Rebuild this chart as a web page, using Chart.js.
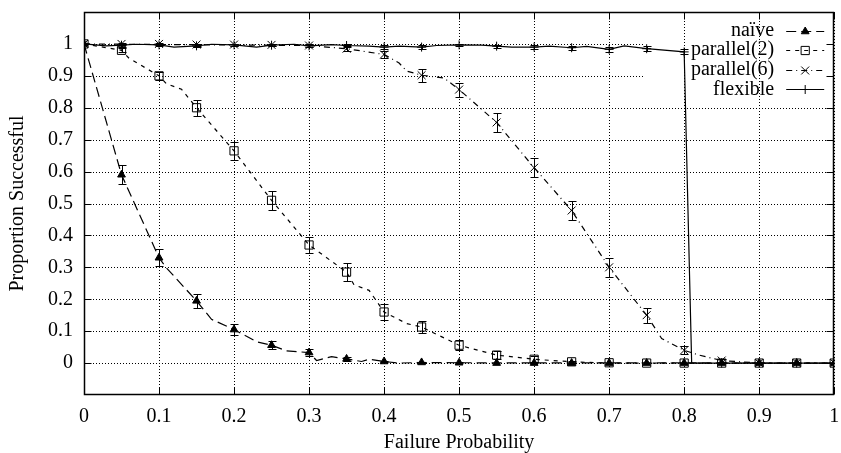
<!DOCTYPE html>
<html>
<head>
  <meta charset="UTF-8">
  <title>Proportion Successful vs Failure Probability</title>
  <script src="https://cdn.jsdelivr.net/npm/chart.js"></script>
  <style>
    html, body {
      margin: 0;
      padding: 0;
      background: #fff;
      overflow: hidden;
    }
    .chart-container {
      position: relative;
      width: 841px;
      height: 453px;
    }
  </style>
</head>
<body>
  <div class="chart-container">
    <canvas id="successChart"></canvas>
  </div>

  <script>
    // measured points (markers + error bars), every 0.05
    const failureProb = [0, 0.05, 0.1, 0.15, 0.2, 0.25, 0.3, 0.35, 0.4, 0.45, 0.5,
                         0.55, 0.6, 0.65, 0.7, 0.75, 0.8, 0.85, 0.9, 0.95, 1];

    const naive        = [1, 0.59, 0.33, 0.195, 0.105, 0.056, 0.033, 0.013, 0.005, 0.002, 0.001,
                          0, 0, 0, 0, 0, 0, 0, 0, 0, 0];
    const naiveErr     = [0, 0.03, 0.026, 0.023, 0.018, 0.013, 0.01, 0.005, 0.003, 0.002, 0.001,
                          0, 0, 0, 0, 0, 0, 0, 0, 0, 0];

    const parallel2    = [1, 0.98, 0.9, 0.8, 0.665, 0.51, 0.37, 0.285, 0.16, 0.113, 0.056,
                          0.025, 0.012, 0.004, 0.001, 0, 0, 0, 0, 0, 0];
    const parallel2Err = [0, 0.006, 0.012, 0.025, 0.028, 0.03, 0.025, 0.028, 0.026, 0.018, 0.015,
                          0.012, 0.01, 0.004, 0, 0, 0, 0, 0, 0, 0];

    const parallel6    = [1, 1, 1, 0.998, 0.998, 0.997, 0.995, 0.985, 0.967, 0.902, 0.857,
                          0.754, 0.612, 0.478, 0.3, 0.15, 0.04, 0.008, 0, 0, 0];
    const parallel6Err = [0, 0.002, 0.002, 0.003, 0.003, 0.003, 0.005, 0.007, 0.01, 0.02, 0.022,
                          0.029, 0.029, 0.031, 0.029, 0.024, 0.012, 0.005, 0, 0, 0];

    const flexible     = [1, 0.996, 0.997, 0.994, 0.997, 0.996, 0.994, 0.995, 0.99, 0.99, 0.997,
                          0.993, 0.99, 0.988, 0.983, 0.985, 0.975, 0, 0, 0, 0];
    const flexibleErr  = [0, 0.005, 0.004, 0.005, 0.004, 0.004, 0.005, 0.005, 0.006, 0.006, 0.004,
                          0.005, 0.006, 0.006, 0.008, 0.008, 0.008, 0, 0, 0, 0];

    // the connecting lines were sampled finer than the markers
    const naiveLineX = [0, 0.05, 0.1, 0.11, 0.15, 0.17, 0.2, 0.23, 0.25, 0.27, 0.3, 0.31, 0.33,
                        0.35, 0.37, 0.38, 0.4, 0.42, 0.45, 0.5, 1];
    const naiveLineY = [1, 0.59, 0.33, 0.298, 0.195, 0.137, 0.105, 0.067, 0.056, 0.038, 0.033, 0.008, 0.02,
                        0.013, 0.005, 0.012, 0.005, 0, 0.002, 0.001, 0];

    const parallel2LineX = [0, 0.05, 0.06, 0.1, 0.11, 0.13, 0.15, 0.2, 0.25, 0.3, 0.35, 0.36, 0.38,
                            0.4, 0.43, 0.45, 0.5, 0.55, 0.6, 0.65, 0.7, 1];
    const parallel2LineY = [1, 0.98, 0.955, 0.9, 0.875, 0.858, 0.8, 0.665, 0.51, 0.37, 0.285, 0.245, 0.228,
                            0.16, 0.124, 0.113, 0.056, 0.025, 0.012, 0.004, 0, 0];

    const parallel6LineX = [0, 0.3, 0.35, 0.4, 0.42, 0.43, 0.45, 0.48, 0.5, 0.55, 0.6, 0.65, 0.7,
                            0.75, 0.77, 0.8, 0.82, 0.85, 0.9, 1];
    const parallel6LineY = [1, 0.995, 0.985, 0.967, 0.94, 0.915, 0.902, 0.893, 0.857, 0.754, 0.612, 0.478, 0.3,
                            0.15, 0.077, 0.04, 0.025, 0.008, 0, 0];

    const flexibleLineX = [0, 0.03, 0.05, 0.07, 0.1, 0.12, 0.15, 0.17, 0.2, 0.23, 0.25, 0.28, 0.3, 0.33,
                           0.35, 0.38, 0.4, 0.42, 0.45, 0.47, 0.5, 0.53, 0.55, 0.57, 0.6, 0.62, 0.65,
                           0.67, 0.7, 0.72, 0.75, 0.8, 0.81, 1];
    const flexibleLineY = [1, 0.994, 0.996, 0.999, 0.997, 0.99, 0.994, 0.999, 0.997, 0.99, 0.996, 0.999, 0.994, 0.998,
                           0.995, 0.993, 0.99, 0.993, 0.99, 0.995, 0.997, 0.996, 0.993, 0.99, 0.99, 0.993, 0.988,
                           0.992, 0.983, 0.994, 0.985, 0.975, 0, 0];

    const xTicks = [0, 0.1, 0.2, 0.3, 0.4, 0.5, 0.6, 0.7, 0.8, 0.9, 1];
    const yTicks = [0, 0.1, 0.2, 0.3, 0.4, 0.5, 0.6, 0.7, 0.8, 0.9, 1];
    const seriesLabels = ['naïve', 'parallel(2)', 'parallel(6)', 'flexible'];

    const FONT = '"Liberation Serif", "Times New Roman", serif';

    // line / marker look per series (gnuplot style)
    const seriesStyles = [
      { dash: [10, 5],       point: 'triangle', radius: 4.5, fill: '#000' },
      { dash: [4, 5],        point: 'rect',     radius: 5.8, fill: 'rgba(0,0,0,0)' },
      { dash: [6, 4, 1, 4],  point: 'crossRot', radius: 5.6, fill: 'rgba(0,0,0,0)' },
      { dash: [],            point: 'cross',    radius: 4.5, fill: 'rgba(0,0,0,0)' }
    ];

    const pointSets = [
      [naive, naiveErr], [parallel2, parallel2Err], [parallel6, parallel6Err], [flexible, flexibleErr]
    ];
    const lineSets = [
      [naiveLineX, naiveLineY], [parallel2LineX, parallel2LineY],
      [parallel6LineX, parallel6LineY], [flexibleLineX, flexibleLineY]
    ];

    function pairs(xs, ys) {
      return xs.map((x, i) => ({ x: x, y: ys[i] }));
    }

    const datasets = [];
    seriesLabels.forEach((label, i) => {
      const st = seriesStyles[i];
      datasets.push({
        label: label,
        data: pairs(lineSets[i][0], lineSets[i][1]),
        showLine: true,
        borderColor: '#000',
        borderWidth: 1.2,
        borderDash: st.dash,
        pointRadius: 0,
        tension: 0
      });
      datasets.push({
        label: label + ' points',
        data: pairs(failureProb, pointSets[i][0]),
        errors: pointSets[i][1],
        showLine: false,
        pointStyle: st.point,
        pointRadius: st.radius,
        pointBorderWidth: 1,
        pointBorderColor: '#000',
        pointBackgroundColor: st.fill
      });
    });

    function legendLeft(chart) {
      return chart.chartArea.right - 191;
    }

    // horizontal dotted grid + opaque key box (gnuplot hides grid lines under the key)
    const gridAndKeyBox = {
      id: 'gridAndKeyBox',
      beforeDatasetsDraw(chart) {
        const ctx = chart.ctx, a = chart.chartArea, ys = chart.scales.y;
        const keyLeft = legendLeft(chart);
        ctx.save();
        ctx.strokeStyle = '#000';
        ctx.lineWidth = 1;
        ctx.setLineDash([1, 2]);
        yTicks.forEach(v => {
          const py = Math.round(ys.getPixelForValue(v)) + 0.5;
          const end = v > 0.85 ? keyLeft : a.right;
          ctx.beginPath();
          ctx.moveTo(a.left, py);
          ctx.lineTo(end, py);
          ctx.stroke();
        });
        ctx.restore();
      }
    };

    const errorBars = {
      id: 'errorBars',
      afterDatasetsDraw(chart) {
        const ctx = chart.ctx, xs = chart.scales.x, ys = chart.scales.y;
        ctx.save();
        ctx.strokeStyle = '#000';
        ctx.lineWidth = 1;
        chart.data.datasets.forEach(ds => {
          if (!ds.errors) return;
          ds.data.forEach((p, j) => {
            const e = ds.errors[j];
            if (!e) return;
            const px = Math.round(xs.getPixelForValue(p.x)) + 0.5;
            const top = Math.round(ys.getPixelForValue(p.y + e)) + 0.5;
            const bot = Math.round(ys.getPixelForValue(p.y - e)) + 0.5;
            ctx.beginPath();
            ctx.moveTo(px, top); ctx.lineTo(px, bot);
            ctx.moveTo(px - 4, top); ctx.lineTo(px + 4, top);
            ctx.moveTo(px - 4, bot); ctx.lineTo(px + 4, bot);
            ctx.stroke();
          });
        });
        ctx.restore();
      }
    };

    const keyAndFrame = {
      id: 'keyAndFrame',
      afterDraw(chart) {
        const ctx = chart.ctx, a = chart.chartArea;
        const xs = chart.scales.x, ys = chart.scales.y;
        ctx.save();

        // key
        const textRight = a.right - 60, x0 = a.right - 48, x1 = a.right - 10;
        ctx.font = '20px ' + FONT;
        ctx.textAlign = 'right';
        ctx.textBaseline = 'middle';
        seriesLabels.forEach((label, i) => {
          const st = seriesStyles[i];
          const cy = a.top + 18.5 + i * 19.6;
          ctx.fillStyle = '#000';
          ctx.fillText(label, textRight, cy);
          ctx.strokeStyle = '#000';
          ctx.lineWidth = 1.2;
          ctx.setLineDash(st.dash);
          ctx.beginPath();
          ctx.moveTo(x0, Math.round(cy) + 0.5);
          ctx.lineTo(x1, Math.round(cy) + 0.5);
          ctx.stroke();
          ctx.setLineDash([]);
          ctx.fillStyle = st.fill;
          ctx.lineWidth = 1;
          Chart.helpers.drawPoint(ctx, { pointStyle: st.point, radius: st.radius, rotation: 0, borderWidth: 1 },
            (x0 + x1) / 2, Math.round(cy) + 0.5);
        });

        // border and inward tics on all four sides
        ctx.strokeStyle = '#000';
        ctx.lineWidth = 1;
        const L = Math.round(a.left) + 0.5, R = Math.round(a.right) - 0.5;
        const T = Math.round(a.top) + 0.5, B = Math.round(a.bottom) - 0.5;
        ctx.beginPath();
        xTicks.forEach(v => {
          const px = Math.round(xs.getPixelForValue(v)) + 0.5;
          ctx.moveTo(px, B); ctx.lineTo(px, B - 7);
          ctx.moveTo(px, T); ctx.lineTo(px, T + 7);
        });
        yTicks.forEach(v => {
          const py = Math.round(ys.getPixelForValue(v)) + 0.5;
          ctx.moveTo(L, py); ctx.lineTo(L + 7, py);
          ctx.moveTo(R, py); ctx.lineTo(R - 7, py);
        });
        ctx.stroke();
        ctx.lineWidth = 1.5;
        ctx.strokeRect(L, T, R - L, B - T);
        ctx.restore();
      }
    };

    const ctx = document.getElementById('successChart').getContext('2d');
    const successChart = new Chart(ctx, {
      type: 'scatter',
      data: { datasets: datasets },
      options: {
        responsive: true,
        maintainAspectRatio: false,
        animation: false,
        layout: { padding: { top: 12, right: 3, left: 0, bottom: 0 } },
        scales: {
          x: {
            type: 'linear',
            min: 0,
            max: 1,
            afterBuildTicks: s => { s.ticks = xTicks.map(v => ({ value: v })); },
            afterFit: s => { s.height = 58; s.paddingLeft = 0; s.paddingRight = 0; },
            grid: { color: '#000', lineWidth: 1, drawTicks: false },
            border: { display: false, dash: [1, 2] },
            ticks: {
              color: '#000',
              font: { family: FONT, size: 20 },
              padding: 10,
              maxRotation: 0,
              autoSkip: false,
              callback: v => String(v)
            },
            title: {
              display: true,
              text: 'Failure Probability',
              color: '#000',
              font: { family: FONT, size: 20, lineHeight: 1 },
              padding: { top: 0, bottom: 0 }
            }
          },
          y: {
            type: 'linear',
            min: -0.1,
            max: 1.1,
            afterBuildTicks: s => { s.ticks = yTicks.map(v => ({ value: v })); },
            afterFit: s => { s.width = 84; s.paddingTop = 0; s.paddingBottom = 0; },
            grid: { display: false, drawTicks: false },
            border: { display: false },
            ticks: {
              color: '#000',
              font: { family: FONT, size: 20 },
              padding: 11,
              callback: v => String(v)
            },
            title: {
              display: true,
              text: 'Proportion Successful',
              color: '#000',
              font: { family: FONT, size: 20 },
              padding: { top: 6, bottom: 0 }
            }
          }
        },
        plugins: {
          legend: { display: false },
          tooltip: { enabled: false }
        }
      },
      plugins: [gridAndKeyBox, errorBars, keyAndFrame]
    });
  </script>
</body>
</html>
